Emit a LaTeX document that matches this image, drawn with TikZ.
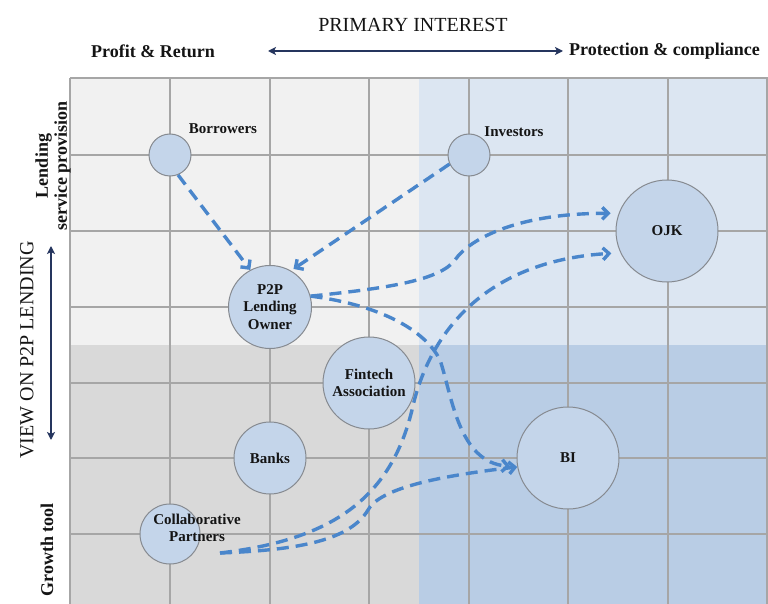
\documentclass[tikz,border=0pt]{standalone}
\usepackage{fontspec}
\setmainfont{Liberation Serif}
\usetikzlibrary{arrows.meta}

\definecolor{quadTL}{HTML}{F1F1F1}
\definecolor{quadBL}{HTML}{D9D9D9}
\definecolor{quadTR}{HTML}{DCE6F2}
\definecolor{quadBR}{HTML}{B9CDE5}
\definecolor{gridgray}{HTML}{A6A6A6}
\definecolor{bubble}{HTML}{C4D5EA}
\definecolor{ringgray}{HTML}{868A90}
\definecolor{flowblue}{HTML}{4A86CB}
\definecolor{navy}{HTML}{25355E}
\definecolor{ink}{HTML}{141414}

\tikzset{
  gridline/.style={draw=gridgray, line width=1.1pt},
  actor/.style={circle, draw=ringgray, line width=1pt, fill=bubble, inner sep=0pt,
    align=center, text=ink, font=\bfseries\fontsize{15}{17.5}\selectfont},
  tag/.style={inner sep=0pt, align=center, text=ink,
    font=\bfseries\fontsize{15}{17.5}\selectfont},
  flow/.style={draw=flowblue, line width=3.4pt, dash pattern=on 12pt off 7pt,
    -{Straight Barb[length=6pt,width=12pt]}},
  axisarrow/.style={draw=navy, line width=2pt,
    {Stealth[length=8pt,width=8pt,inset=2pt]}-{Stealth[length=8pt,width=8pt,inset=2pt]}},
  axishead/.style={inner sep=0pt, text=ink, align=center,
    font=\bfseries\fontsize{18}{19}\selectfont},
  axistitle/.style={inner sep=0pt, text=ink, font=\fontsize{20}{22}\selectfont},
}

\begin{document}
\begin{tikzpicture}[x=1pt, y=-1pt]
\useasboundingbox (0,0) rectangle (768,604);
\fill[white] (0,0) rectangle (768,604);

% quadrant backgrounds
\fill[quadTL] (70,78) rectangle (419,345);
\fill[quadBL] (70,345) rectangle (419,604);
\fill[quadTR] (419,78) rectangle (768,345);
\fill[quadBR] (419,345) rectangle (768,604);

% grid
\foreach \gx in {70,170,270,369,469,568,668,767}
  \draw[gridline] (\gx,78) -- (\gx,604);
\foreach \gy in {78,155,231,307,383,458,534}
  \draw[gridline] (70,\gy) -- (768,\gy);

% axis captions
\node[axistitle] (title) at (413,25) {PRIMARY INTEREST};
\node[axishead] (profit) at (153,51) {Profit \& Return};
\node[axishead, anchor=west] (protect) at (569,51) {Protection \& compliance};
\coordinate (hl) at (268,51);
\coordinate (hr) at (563,51);
\draw[axisarrow] (hl) -- (hr);

\node[axistitle, rotate=90] (view) at (27,350) {VIEW ON P2P LENDING};
\coordinate (vt) at (51,246);
\coordinate (vb) at (51,440);
\draw[axisarrow] (vt) -- (vb);
\node[axishead, rotate=90] (provider) at (53,166) {Lending\\service provision};
\node[axishead, rotate=90] (growth) at (47,550) {Growth tool};

% stakeholders
\node[actor, minimum size=42pt] (bor) at (170,155) {};
\node[tag] (borlab) at (223,129) {Borrowers};
\node[actor, minimum size=42pt] (inv) at (469,155) {};
\node[tag] (invlab) at (514,132) {Investors};
\node[actor, minimum size=102pt] (ojk) at (667,231) {OJK};
\node[actor, minimum size=83pt] (p2p) at (270,307) {P2P\\Lending\\Owner};
\node[actor, minimum size=92pt] (fin) at (369,383) {Fintech\\Association};
\node[actor, minimum size=72pt] (bank) at (270,458) {Banks};
\node[actor, minimum size=102pt] (bi) at (568,458) {BI};
\node[actor, minimum size=60pt] (col) at (170,534) {};
\node[tag] (collab) at (197,528) {Collaborative\\Partners};
\coordinate (colout) at (220,553);

% flows
\draw[flow] (bor.-68) -- (p2p.118);
\draw[flow, shorten >=3pt] (inv.205) -- (p2p.60);
\draw[flow, shorten >=8pt] (p2p.15) .. controls (390,288) and (440,280) .. (455,260)
  .. controls (470,238) and (520,213) .. (ojk.160);
\draw[flow, shorten >=7pt] (p2p.15) .. controls (380,305) and (425,330) .. (440,360)
  .. controls (452,395) and (458,462) .. (bi.190);
\draw[flow, shorten >=9pt] (colout) .. controls (330,540) and (390,500) .. (412,410)
  .. controls (425,350) and (470,262) .. (ojk.205);
\draw[flow] (colout) .. controls (300,550) and (350,540) .. (368,510)
  .. controls (378,492) and (420,478) .. (bi.190);
\end{tikzpicture}
\end{document}
